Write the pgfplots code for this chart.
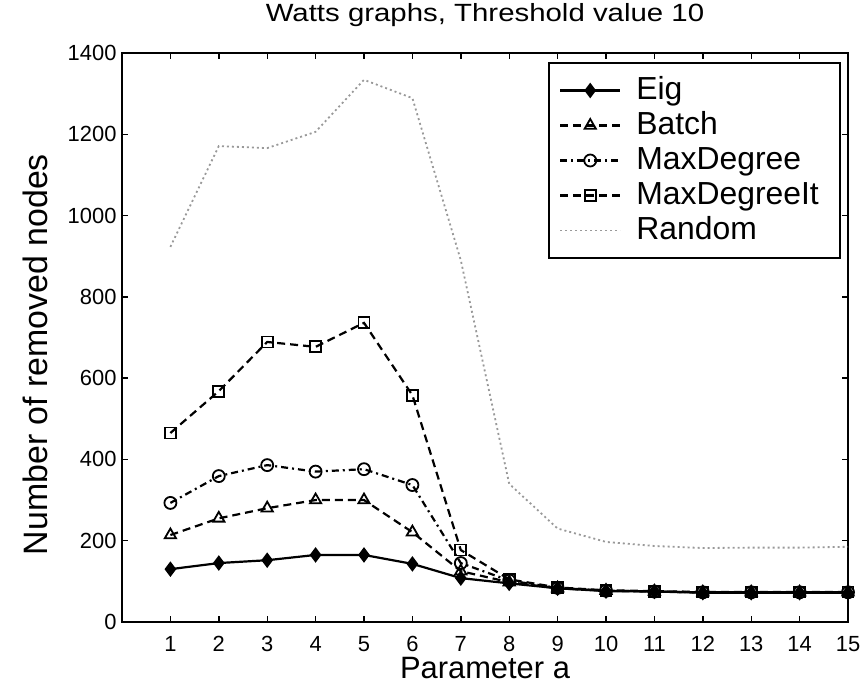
\documentclass[border=0pt]{standalone}
\usepackage{fontspec}
\setmainfont{Liberation Sans}
\newfontfamily\titlefont[FakeStretch=1.18]{Liberation Sans}
\usepackage{pgfplots}
\usepackage{pgfplotstable}
\pgfplotsset{compat=1.18}
\pgfplotstableread{
x eig batch maxdeg maxdegit random
1 130 214 293 465 923
2 145 255 359 568 1171
3 152 280 386 689 1166
4 165 300 370 677 1206
5 165 300 376 736 1334
6 143 221 337 558 1289
7 108 125 145 177 890
8 95 98 102 105 340
9 83 83 84 85 230
10 76 77 77 78 197
11 75 75 75 76 187
12 72 73 73 74 182
13 72 73 73 74 183
14 72 73 73 74 183
15 72 73 73 74 185
}\data
\begin{document}
\begin{tikzpicture}
\useasboundingbox (0,0) rectangle (868bp,684bp);
\begin{axis}[
  at={(122bp,62bp)}, anchor=south west,
  width=726bp, height=569bp, scale only axis,
  xmin=0, xmax=15, ymin=0, ymax=1400,
  xtick={1,...,15}, ytick={0,200,...,1400},
  tick pos=both, tick align=inside,
  axis line style={line width=1.8bp},
  major tick style={line width=1.4bp, black},
  major tick length=6bp,
  /pgf/number format/assume math mode=true,
  /pgf/number format/1000 sep={},
  ticklabel style={font=\fontsize{22}{22}\selectfont},
  xticklabel style={yshift=-11bp},
  yticklabel style={xshift=-2bp},
  title={Watts graphs, Threshold value 10},
  title style={at={(axis description cs:0.5,1.0457)}, anchor=base, inner sep=0pt, font=\titlefont\fontsize{25}{25}\selectfont},
  xlabel={Parameter a},
  xlabel style={at={(axis description cs:0.5,-0.1)}, anchor=base, inner sep=0pt, font=\fontsize{31}{31}\selectfont},
  ylabel={Number of removed nodes},
  ylabel style={at={(axis description cs:-0.1033,0.47)}, anchor=base, inner sep=0pt, font=\fontsize{34}{34}\selectfont},
  legend style={at={(axis description cs:0.990,0.984)}, anchor=north east, draw=black, line width=1.8bp,
    font=\fontsize{32}{32}\selectfont, inner sep=10bp, row sep=0bp, column sep=4bp,
    nodes={text height=23bp, text depth=6bp, inner xsep=11bp, inner ysep=3bp}},
  legend cell align=left,
  legend image code/.code={\draw[mark repeat=2,mark phase=2] plot coordinates {(0bp,0bp) (30bp,0bp) (60bp,0bp)};},
]
\addplot[black!40, line width=1.8bp, dash pattern=on 2bp off 3bp, forget plot] table[x=x,y=random]{\data};
\addplot[black, line width=2.2bp, mark=diamond*, mark size=6bp, mark options={solid}] table[x=x,y=eig]{\data};
\addlegendentry{Eig}
\addplot[black, line width=2.2bp, dash pattern=on 8bp off 5bp, mark=triangle, mark size=6.5bp, mark options={solid, line width=1.8bp}] table[x=x,y=batch]{\data};
\addlegendentry{Batch}
\addplot[black, line width=2.2bp, dash pattern=on 7bp off 4bp on 2bp off 4bp, mark=o, mark size=6bp, mark options={solid, line width=1.8bp}] table[x=x,y=maxdeg]{\data};
\addlegendentry{MaxDegree}
\addplot[black, line width=2.2bp, dash pattern=on 8bp off 5bp, mark=square, mark size=5.5bp, mark options={solid, line width=1.8bp}] table[x=x,y=maxdegit]{\data};
\addlegendentry{MaxDegreeIt}
\addlegendimage{black!40, line width=1.8bp, dash pattern=on 2bp off 3bp}
\addlegendentry{Random}
\end{axis}
\end{tikzpicture}
\end{document}
